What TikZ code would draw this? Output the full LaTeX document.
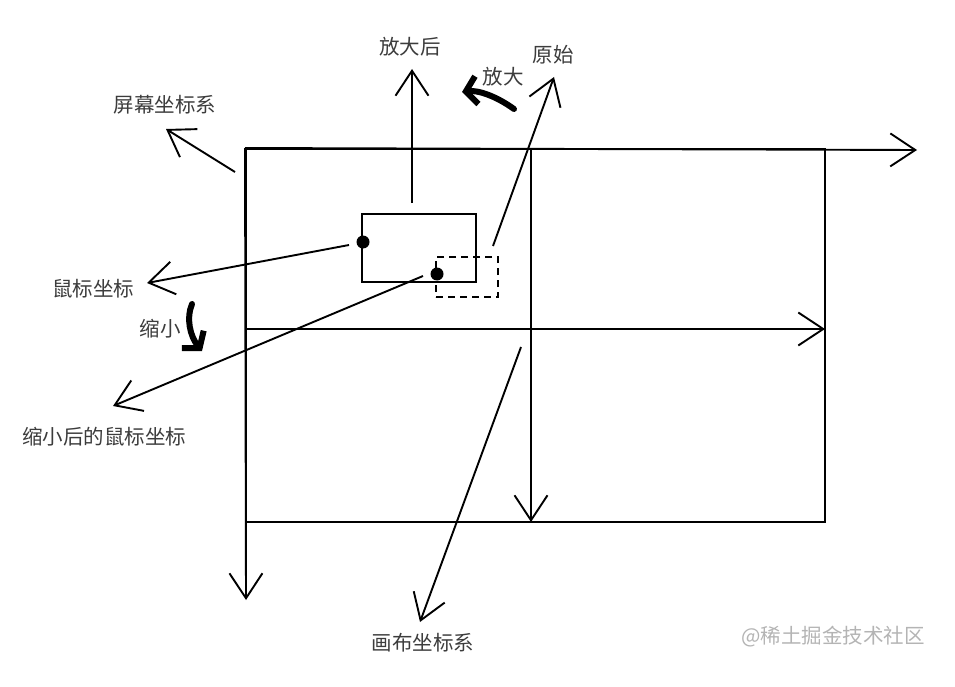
\documentclass[tikz,border=0pt]{standalone}
\usepackage{fontspec}
\setmainfont{Noto Sans CJK SC}
\usetikzlibrary{arrows.meta, positioning}

\definecolor{labelgray}{HTML}{3C3C3C}
\definecolor{markgray}{HTML}{B4B4B4}

\begin{document}
\begin{tikzpicture}[
    x=1pt, y=-1pt,
    arrow/.style={-{Straight Barb[length=25pt,width=33pt]}, line width=1.9pt},
    frame/.style={rectangle,draw=black,line width=2pt,inner sep=0pt},
    dashframe/.style={frame,dash pattern=on 7pt off 5pt},
    turn/.style={line width=6pt, line cap=round, -{Straight Barb[length=11pt,width=28pt]}},
    lbl/.style={text=labelgray,font=\fontsize{20.5}{24}\selectfont,inner sep=0pt},
    dot/.style={circle,fill=black,minimum size=13pt,inner sep=0pt}
]
\useasboundingbox (0,0) rectangle (955,687);

% canvas and its axes
\node[frame, minimum width=579pt, minimum height=373pt] (canvas) at (535.5,335.5) {};
\coordinate (xend) at (917,150);
\coordinate (yend) at (246,600);
\coordinate (midtop) at (531,150);
\coordinate (midbot) at (531,522);
\coordinate (midleft) at (246,329);
\coordinate (midright) at (825,329);
\draw[arrow] (canvas.north west) -- (xend);
\draw[arrow] (canvas.north west) -- (yend);
\draw[arrow] (midtop) -- (midbot);
\draw[arrow] (midleft) -- (midright);

% view after zoom and original view
\node[frame, minimum width=114pt, minimum height=68pt] (zoomed) at (419,248) {};
\node[dashframe, minimum width=62pt, minimum height=40pt] (orig) at (467,277) {};
\node[dot] (mouse) at (363,242) {};
\node[dot] (mousesmall) at (437,274) {};

% labels
\node[lbl] (afterLbl) at (410,47) {放大后};
\node[lbl] (origLbl) at (553,55) {原始};
\node[lbl] (zoomInLbl) at (503,77) {放大};
\node[lbl] (screenLbl) at (165,105) {屏幕坐标系};
\node[lbl] (mouseLbl) at (93,289) {鼠标坐标};
\node[lbl] (zoomOutLbl) at (160,329) {缩小};
\node[lbl] (mouseSmallLbl) at (104,437) {缩小后的鼠标坐标};
\node[lbl] (canvasLbl) at (423,643) {画布坐标系};
\node[lbl, text=markgray] (mark) at (833,637) {@稀土掘金技术社区};

% pointers
\coordinate (afterFrom) at (412,203);
\coordinate (afterTip) at (412,69);
\coordinate (origFrom) at (493,246);
\coordinate (origTip) at (554,77);
\coordinate (screenFrom) at (235,172);
\coordinate (screenTip) at (166,129);
\coordinate (mouseFrom) at (349,245);
\coordinate (mouseTip) at (147,283);
\coordinate (smallFrom) at (423,276);
\coordinate (smallTip) at (113,406);
\coordinate (canvasFrom) at (521,347);
\coordinate (canvasTip) at (420,622);
\draw[arrow] (afterFrom) -- (afterTip);
\draw[arrow] (origFrom) -- (origTip);
\draw[arrow] (screenFrom) -- (screenTip);
\draw[arrow] (mouseFrom) -- (mouseTip);
\draw[arrow] (smallFrom) -- (smallTip);
\draw[arrow] (canvasFrom) -- (canvasTip);

% zoom in / zoom out strokes
\coordinate (inFrom) at (514,109);
\coordinate (inTip) at (462,92);
\coordinate (outFrom) at (192,304);
\coordinate (outTip) at (202,351);
\draw[turn] (inFrom) .. controls (496,96) and (478,90) .. (inTip);
\draw[turn] (outFrom) .. controls (186,318) and (190,336) .. (outTip);

\end{tikzpicture}
\end{document}
